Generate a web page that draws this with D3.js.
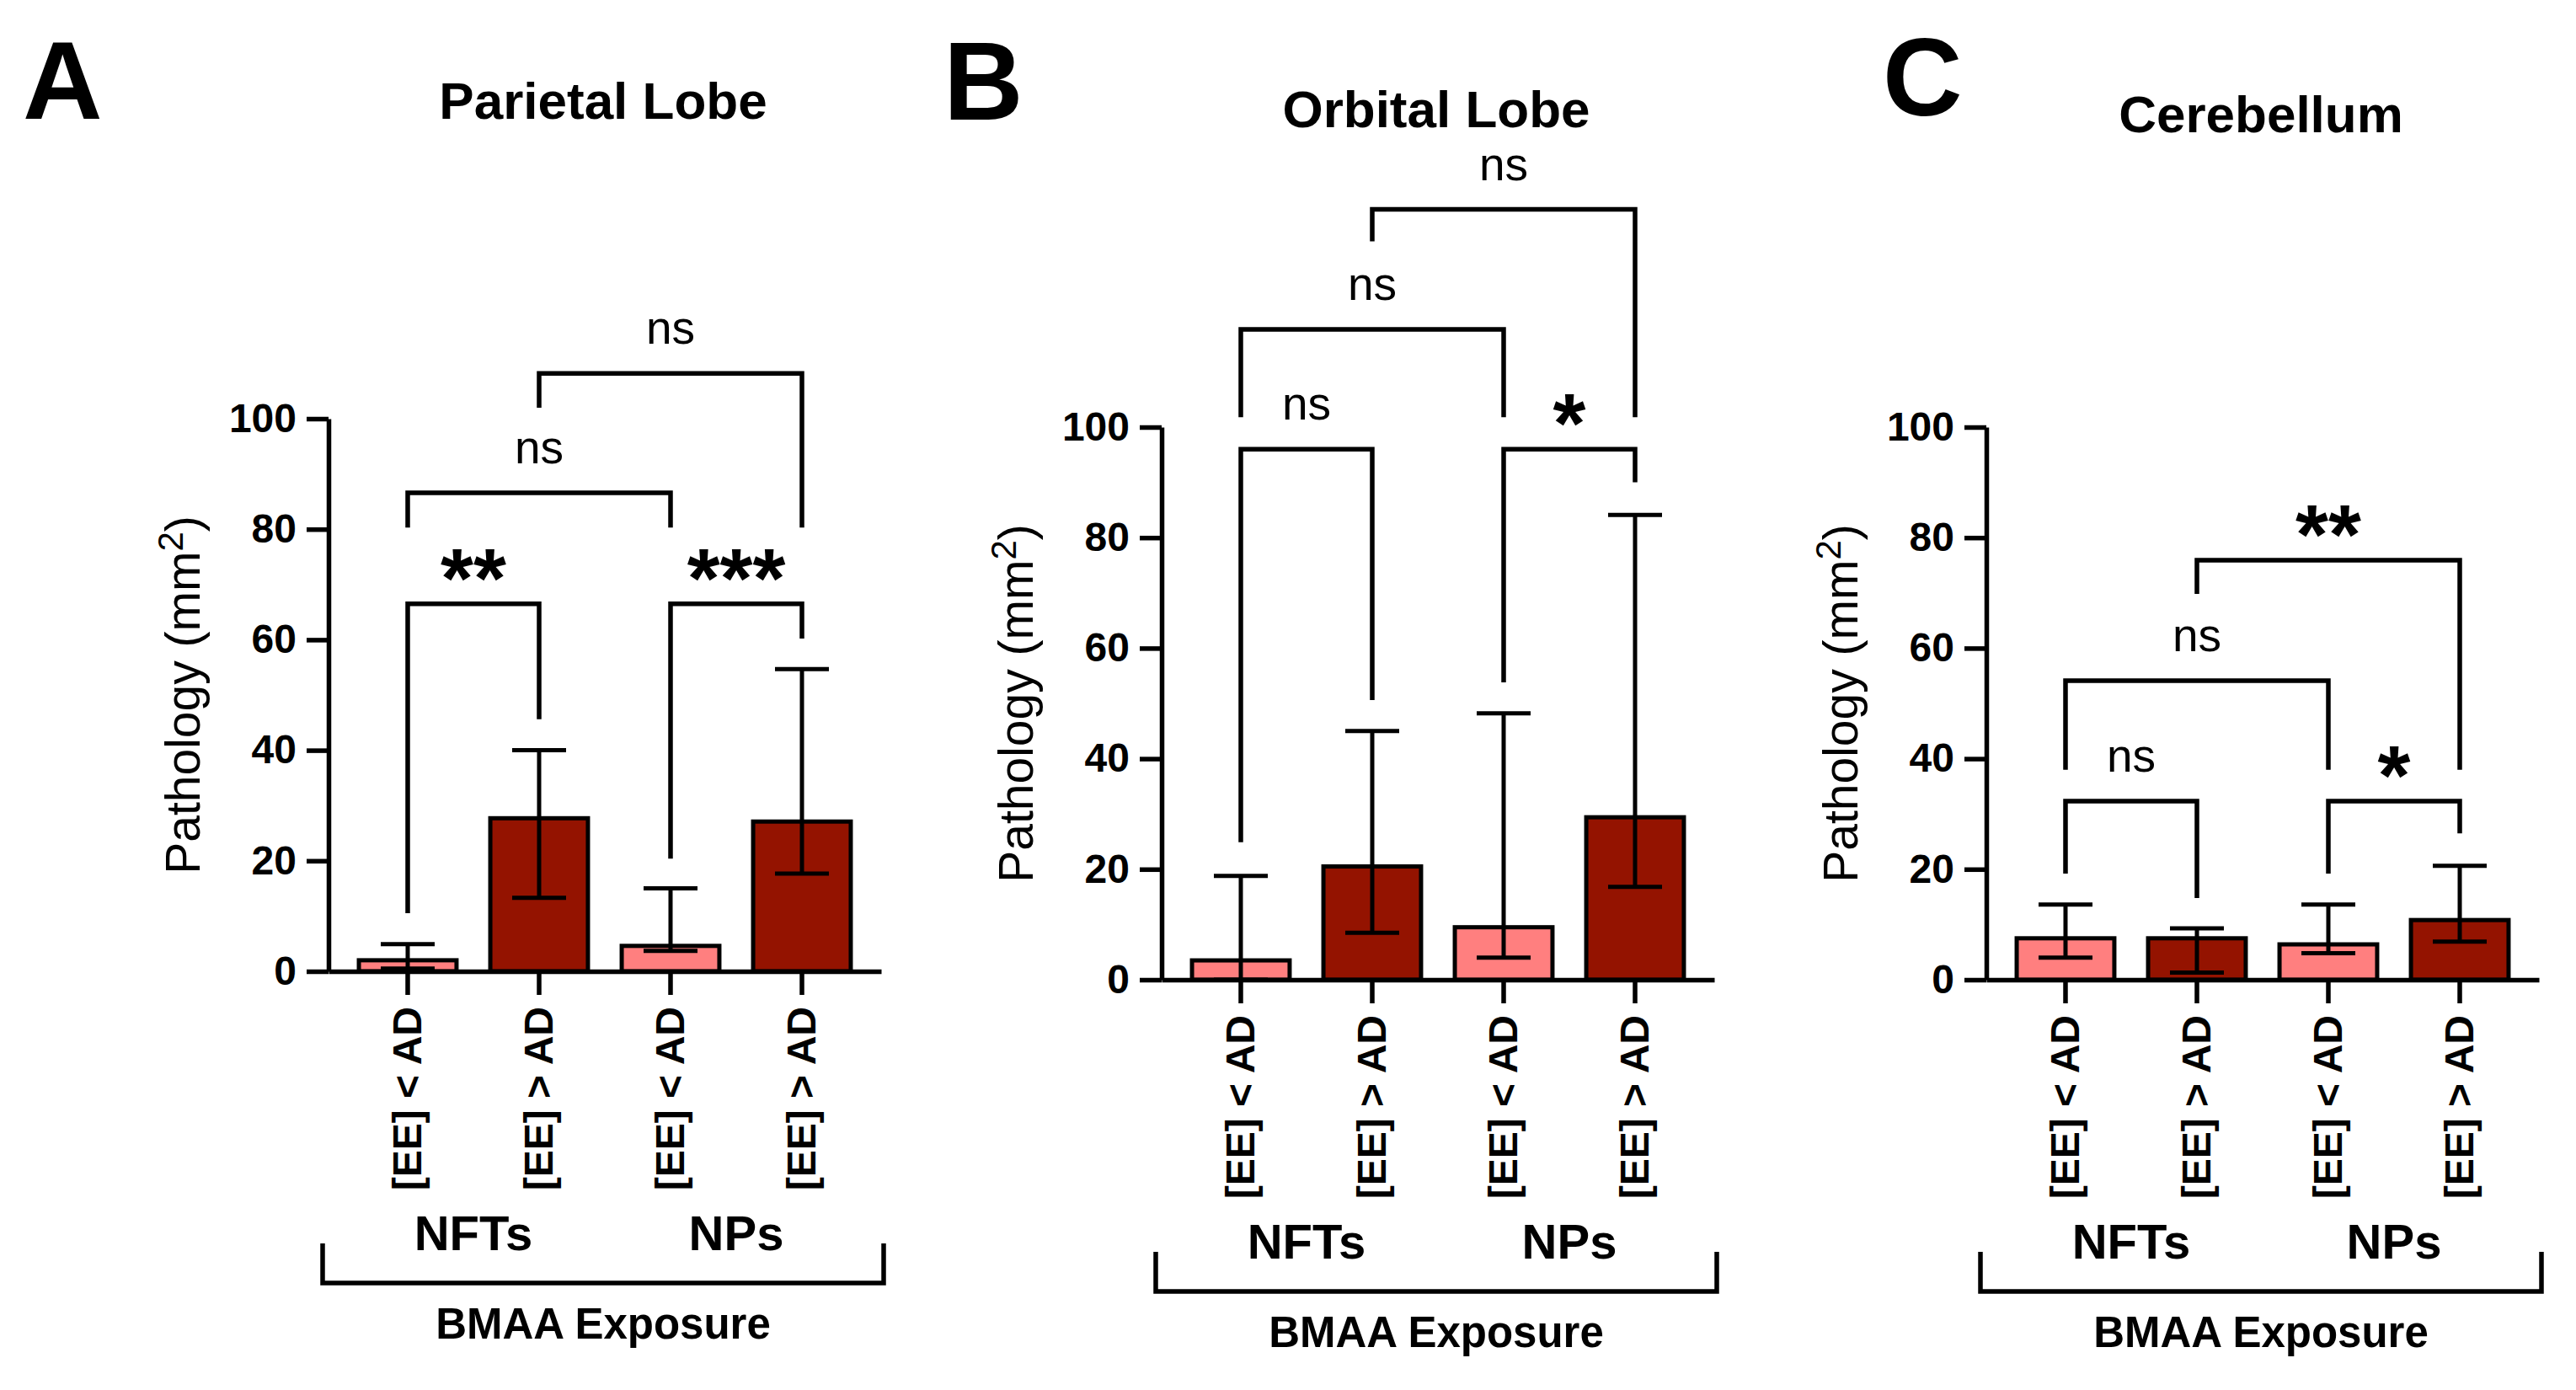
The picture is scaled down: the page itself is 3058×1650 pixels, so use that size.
<!DOCTYPE html>
<html>
<head>
<meta charset="utf-8">
<script src="https://cdn.jsdelivr.net/npm/d3@7"></script>
<style>
  body { margin: 0; background: #fff; }
  svg { display: block; }
</style>
</head>
<body>
<script>
// Panel texts
var panelLetters = ['A', 'B', 'C'];
var panelTitles = ['Parietal Lobe', 'Orbital Lobe', 'Cerebellum'];
var categories = ['[EE] < AD', '[EE] > AD', '[EE] < AD', '[EE] > AD'];
var groupLabels = ['NFTs', 'NPs'];
var exposureLabel = 'BMAA Exposure';
var yTicks = [0, 20, 40, 60, 80, 100];

// Bar values and error bar ends
var parietalMean = [2.0, 27.7, 4.6, 27.1];
var parietalLow = [0.5, 13.3, 3.7, 17.7];
var parietalHigh = [4.9, 40.0, 15.0, 54.7];

var orbitalMean = [3.5, 20.5, 9.5, 29.4];
var orbitalLow = [0.0, 8.5, 4.0, 16.8];
var orbitalHigh = [18.8, 45.0, 48.2, 84.1];

var cerebellumMean = [7.5, 7.5, 6.4, 10.8];
var cerebellumLow = [4.0, 1.3, 4.8, 6.9];
var cerebellumHigh = [13.6, 9.3, 13.6, 20.6];

// Comparisons: [from bar, to bar, bracket level, left leg end, right leg end, label]
var parietalTests = [
    [0, 1, 66.5, 10.5, 45.6, '**'],
    [2, 3, 66.5, 20.4, 60.2, '***'],
    [0, 2, 86.6, 80.3, 80.3, 'ns'],
    [1, 3, 108.2, 102.0, 80.3, 'ns']
];
var orbitalTests = [
    [0, 1, 96.0, 24.9, 50.6, 'ns'],
    [2, 3, 96.0, 53.8, 90.0, '*'],
    [0, 2, 117.7, 101.8, 101.8, 'ns'],
    [1, 3, 139.4, 133.6, 101.8, 'ns']
];
var cerebellumTests = [
    [0, 1, 32.3, 19.2, 14.8, 'ns'],
    [2, 3, 32.3, 19.2, 26.5, '*'],
    [0, 2, 54.1, 38.0, 38.0, 'ns'],
    [1, 3, 75.9, 69.8, 38.0, '**']
];

var barColors = ['#FF7F7F', '#941300', '#FF7F7F', '#941300'];

var panels = [
    { mean: parietalMean, low: parietalLow, high: parietalHigh, tests: parietalTests,
      axisX: 390, y0: 1153, titleY: 141, letterX: 27, letterY: 141 },
    { mean: orbitalMean, low: orbitalLow, high: orbitalHigh, tests: orbitalTests,
      axisX: 1379, y0: 1163, titleY: 151, letterX: 1120, letterY: 142 },
    { mean: cerebellumMean, low: cerebellumLow, high: cerebellumHigh, tests: cerebellumTests,
      axisX: 2358, y0: 1163, titleY: 157, letterX: 2235, letterY: 137 }
];

var FONT = "'Liberation Sans', Arial, Helvetica, sans-serif";
var LW = 5.5;

var svg = d3.select('body').append('svg')
    .attr('width', 3058)
    .attr('height', 1650)
    .attr('font-family', FONT);

panels.forEach(function(p, k) {

    var g = svg.append('g');

    var y = d3.scaleLinear()
        .domain([0, 100])
        .range([p.y0, p.y0 - 656]);

    var x = d3.scaleBand()
        .domain(d3.range(categories.length))
        .range([p.axisX, p.axisX + 656])
        .paddingInner(0.225)
        .paddingOuter(0.215);

    var cx = function(i) { return x(i) + x.bandwidth() / 2; };
    var mid = p.axisX + 326;

    // panel letter and title
    g.append('text')
        .attr('x', p.letterX)
        .attr('y', p.letterY)
        .attr('font-size', 131)
        .attr('font-weight', 'bold')
        .text(panelLetters[k]);

    g.append('text')
        .attr('x', mid)
        .attr('y', p.titleY)
        .attr('text-anchor', 'middle')
        .attr('font-size', 62)
        .attr('font-weight', 'bold')
        .text(panelTitles[k]);

    // bars
    g.selectAll('rect.bar')
      .data(p.mean)
      .enter()
        .append('rect')
        .attr('class', 'bar')
        .attr('x', function(d, i) { return x(i) + 2.5; })
        .attr('width', x.bandwidth() - 5)
        .attr('y', function(d) { return y(d); })
        .attr('height', function(d) { return y(0) - y(d); })
        .attr('fill', function(d, i) { return barColors[i]; })
        .attr('stroke', '#000')
        .attr('stroke-width', 5);

    // error bars
    var capHalf = 32;
    g.selectAll('path.err')
      .data(p.mean)
      .enter()
        .append('path')
        .attr('class', 'err')
        .attr('fill', 'none')
        .attr('stroke', '#000')
        .attr('stroke-width', 5)
        .attr('d', function(d, i) {
            var c = cx(i);
            var hi = y(p.high[i]);
            var lo = y(p.low[i]);
            return 'M' + c + ',' + lo + 'V' + hi +
                   'M' + (c - capHalf) + ',' + hi + 'H' + (c + capHalf) +
                   'M' + (c - capHalf) + ',' + lo + 'H' + (c + capHalf);
        });

    // y axis
    var yAxis = g.append('g')
        .attr('transform', 'translate(' + p.axisX + ',0)')
        .call(d3.axisLeft(y).tickValues(yTicks).tickSize(26).tickPadding(12).tickSizeOuter(0));

    yAxis.selectAll('text')
        .attr('font-size', 48)
        .attr('font-weight', 'bold')
        .attr('font-family', FONT)
        .attr('fill', '#000');

    // x axis
    var xAxis = g.append('g')
        .attr('transform', 'translate(0,' + p.y0 + ')')
        .call(d3.axisBottom(x).tickSize(28).tickSizeOuter(0)
              .tickFormat(function(i) { return categories[i]; }));

    xAxis.selectAll('text')
        .attr('transform', 'rotate(-90)')
        .attr('text-anchor', 'end')
        .attr('x', -42)
        .attr('y', 16)
        .attr('dy', 0)
        .attr('font-size', 48)
        .attr('font-weight', 'bold')
        .attr('font-family', FONT)
        .attr('fill', '#000');

    g.selectAll('.domain, .tick line')
        .attr('stroke', '#000')
        .attr('stroke-width', LW);

    // y axis title
    var yt = g.append('text')
        .attr('transform', 'translate(' + (p.axisX - 153) + ',' + y(50) + ') rotate(-90)')
        .attr('text-anchor', 'middle')
        .attr('font-size', 57);
    yt.append('tspan').text('Pathology (mm');
    yt.append('tspan').attr('font-size', 42).attr('dy', -20).text('2');
    yt.append('tspan').attr('dy', 20).text(')');

    // significance brackets
    p.tests.forEach(function(t) {
        var xl = cx(t[0]);
        var xr = cx(t[1]);
        var yl = y(t[2]);
        g.append('path')
            .attr('fill', 'none')
            .attr('stroke', '#000')
            .attr('stroke-width', LW)
            .attr('stroke-linejoin', 'miter')
            .attr('d', 'M' + xl + ',' + y(t[3]) + 'V' + yl + 'H' + xr + 'V' + y(t[4]));

        var isStars = t[5] !== 'ns';
        g.append('text')
            .attr('x', (xl + xr) / 2)
            .attr('y', isStars ? yl + 4 : yl - 35)
            .attr('text-anchor', 'middle')
            .attr('font-size', isStars ? 100 : 55)
            .attr('font-weight', isStars ? 'bold' : 'normal')
            .text(t[5]);
    });

    // group labels
    g.selectAll('text.group')
      .data(groupLabels)
      .enter()
        .append('text')
        .attr('class', 'group')
        .attr('x', function(d, i) { return (cx(2 * i) + cx(2 * i + 1)) / 2; })
        .attr('y', p.y0 + 331)
        .attr('text-anchor', 'middle')
        .attr('font-size', 58)
        .attr('font-weight', 'bold')
        .text(function(d) { return d; });

    // bottom bracket
    var by = p.y0 + 370;
    g.append('path')
        .attr('fill', 'none')
        .attr('stroke', '#000')
        .attr('stroke-width', LW)
        .attr('d', 'M' + (p.axisX - 7) + ',' + (by - 47) + 'V' + by +
                   'H' + (p.axisX + 659) + 'V' + (by - 47));

    g.append('text')
        .attr('x', mid)
        .attr('y', p.y0 + 436)
        .attr('text-anchor', 'middle')
        .attr('font-size', 51)
        .attr('font-weight', 'bold')
        .text(exposureLabel);
});
</script>
</body>
</html>
